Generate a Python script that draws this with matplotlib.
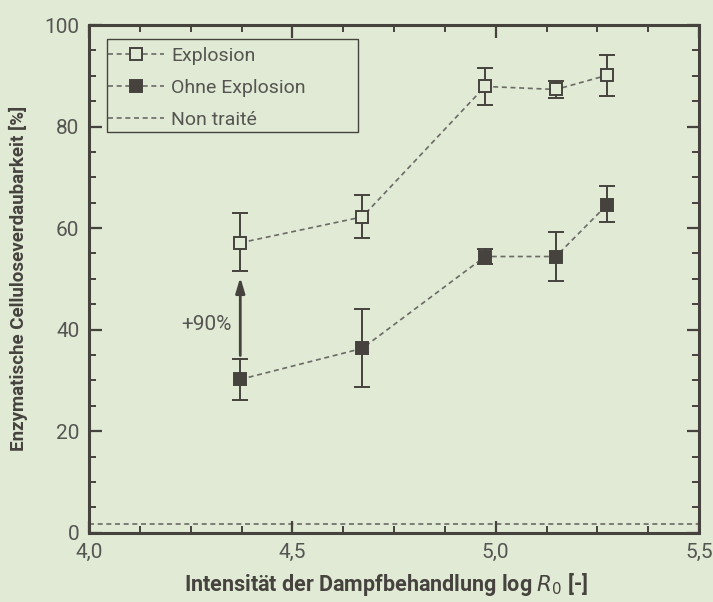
import matplotlib
matplotlib.use("Agg")
import matplotlib.pyplot as plt
from matplotlib.lines import Line2D
from matplotlib.patches import Rectangle
from matplotlib.ticker import MultipleLocator, FuncFormatter

# ---- data ----
log_r0 = [4.372, 4.672, 4.974, 5.148, 5.274]
explosion = [57.1, 62.2, 87.9, 87.3, 90.1]
explosion_lo = [51.6, 58.0, 84.2, 85.6, 86.1]
explosion_hi = [62.9, 66.5, 91.6, 89.0, 94.0]
ohne = [30.2, 36.3, 54.4, 54.4, 64.6]
ohne_lo = [26.2, 28.7, 53.0, 49.5, 61.1]
ohne_hi = [34.2, 44.1, 55.9, 59.3, 68.2]
non_traite = 1.8
arrow_from = 34.9
arrow_to = 50.3
arrow_label = "+90%"
legend_labels = ["Explosion", "Ohne Explosion", "Non traité"]

BG = "#e1ead5"
DARK = "#46433f"
TXT = "#555552"
LINE = "#6a6a66"

plt.rcParams["font.family"] = ["Roboto", "DejaVu Sans"]

fig = plt.figure(figsize=(7.13, 6.02), dpi=100, facecolor=BG)
ax = fig.add_axes([89/713, 1-532.7/602, 610/713, 507.7/602])
ax.set_facecolor(BG)

err_e = [[e - l for e, l in zip(explosion, explosion_lo)],
         [h - e for e, h in zip(explosion, explosion_hi)]]
err_o = [[e - l for e, l in zip(ohne, ohne_lo)],
         [h - e for e, h in zip(ohne, ohne_hi)]]

dash = (0, (3.0, 2.2))
ax.axhline(non_traite, color=LINE, lw=1.2, ls=dash, zorder=1)

for vals, err, face in [(explosion, err_e, BG), (ohne, err_o, DARK)]:
    ax.errorbar(log_r0, vals, yerr=err, fmt="none", ecolor=DARK, elinewidth=1.4,
                capsize=5.5, capthick=1.4, zorder=2)
    ax.plot(log_r0, vals, color=LINE, lw=1.2, ls=dash, zorder=3)
    ax.plot(log_r0, vals, ls="none", marker="s", ms=8.2, mfc=face, mec=DARK,
            mew=1.4, zorder=4)

ax.annotate("", xy=(log_r0[0], arrow_to), xytext=(log_r0[0], arrow_from),
            arrowprops=dict(arrowstyle="-|>,head_length=0.9,head_width=0.27",
                            color=DARK, lw=2.0, shrinkA=0, shrinkB=0), zorder=5)
ax.text(4.350, 41, arrow_label, ha="right", va="center", fontsize=15, color=TXT)

ax.set_xlim(4.0, 5.5)
ax.set_ylim(0, 100)
ax.xaxis.set_major_locator(MultipleLocator(0.5))
ax.xaxis.set_minor_locator(MultipleLocator(0.125))
ax.yaxis.set_major_locator(MultipleLocator(20))
ax.yaxis.set_minor_locator(MultipleLocator(5))
ax.xaxis.set_major_formatter(FuncFormatter(lambda v, p: f"{v:.1f}".replace(".", ",")))
ax.yaxis.set_major_formatter(FuncFormatter(lambda v, p: f"{v:.0f}"))
ax.tick_params(which="both", direction="in", top=True, right=True, colors=DARK,
               labelcolor=TXT, labelsize=15)
ax.tick_params(which="major", length=9, width=1.6, pad=7)
ax.tick_params(which="minor", length=5, width=1.4)
for s in ax.spines.values():
    s.set_color(DARK)
    s.set_linewidth(2.2)

fig.text(18/713, 1-278/602, "Enzymatische Celluloseverdaubarkeit [%]", rotation=90,
         ha="center", va="center", fontsize=13.5, fontweight="bold", color=DARK)
fig.text(386/713, 1-585/602, r"Intensität der Dampfbehandlung log $\mathit{R}_\mathit{0}$ [-]",
         ha="center", va="center", fontsize=15.5, fontweight="bold", color=DARK)

handles = [
    Line2D([], [], color=LINE, lw=1.2, ls=dash, marker="s", ms=8.2, mfc=BG, mec=DARK, mew=1.4),
    Line2D([], [], color=LINE, lw=1.2, ls=dash, marker="s", ms=8.2, mfc=DARK, mec=DARK, mew=1.4),
    Line2D([], [], color=LINE, lw=1.2, ls=dash),
]
leg = ax.legend(handles, legend_labels, loc="upper left", bbox_to_anchor=(0.031, 0.9575),
                borderaxespad=0, fontsize=14, frameon=False,
                handlelength=2.9, handletextpad=0.36, borderpad=0, labelspacing=0.73,
                labelcolor=TXT)
ax.add_patch(Rectangle((0.029, 0.7898), 0.4115, 0.182, transform=ax.transAxes,
                       facecolor=BG, edgecolor=DARK, lw=1.0, zorder=6))
leg.set_zorder(7)

fig.savefig("out.png", dpi=100, facecolor=BG)
